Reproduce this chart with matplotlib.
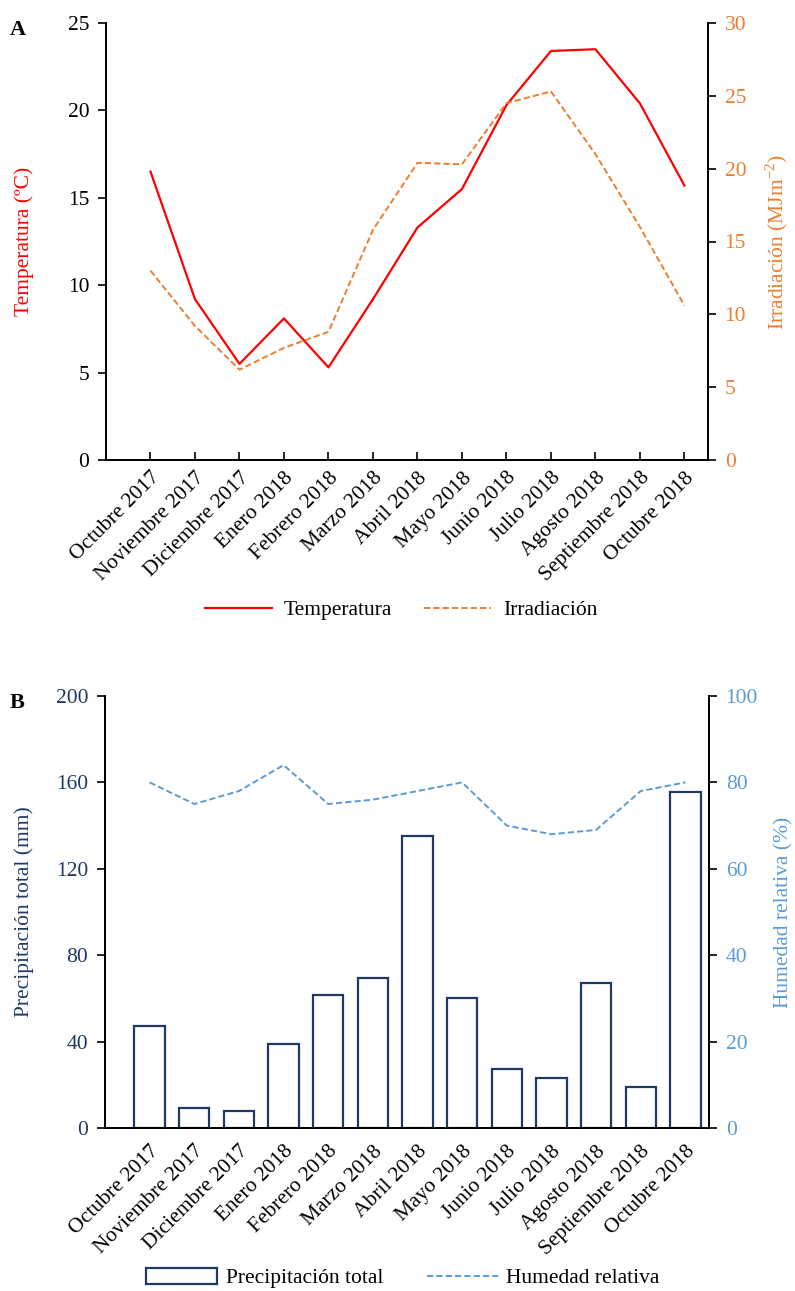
import matplotlib
matplotlib.use("Agg")
import matplotlib.pyplot as plt
from matplotlib.patches import Patch
from matplotlib.lines import Line2D
import numpy as np

plt.rcParams['font.family'] = ['Liberation Serif', 'DejaVu Serif']
plt.rcParams['mathtext.fontset'] = 'custom'
plt.rcParams['mathtext.rm'] = 'Liberation Serif'

months = ["Octubre 2017", "Noviembre 2017", "Diciembre 2017", "Enero 2018",
          "Febrero 2018", "Marzo 2018", "Abril 2018", "Mayo 2018", "Junio 2018",
          "Julio 2018", "Agosto 2018", "Septiembre 2018", "Octubre 2018"]
temperatura = [16.5, 9.2, 5.5, 8.1, 5.3, 9.2, 13.3, 15.5, 20.3, 23.4, 23.5, 20.4, 15.7]
irradiacion = [13.0, 9.2, 6.2, 7.7, 8.8, 15.8, 20.4, 20.3, 24.5, 25.3, 21.0, 16.0, 10.6]
precipitacion = [47, 9.3, 8.0, 38.8, 61.6, 69.3, 135.1, 60.1, 27.5, 23.3, 67.3, 19.0, 155.5]
humedad = [80, 75, 78, 84, 75, 76, 78, 80, 70, 68, 69, 78, 80]

RED = "#FF0000"
ORANGE = "#ED7D31"
NAVY = "#203864"
LBLUE = "#5B9BD5"
FS = 15.5

fig = plt.figure(figsize=(7.95, 12.91), dpi=100)
x = np.arange(len(months))

# ---------- Panel A ----------
axA = fig.add_axes([106/795, 1-460/1291, 602/795, 437/1291])
axA2 = axA.twinx()
axA.plot(x, temperatura, color=RED, lw=1.6)
axA2.plot(x, irradiacion, color=ORANGE, lw=1.4, dashes=(3.2, 1.6))
axA.set_xlim(-1, 12.53)
axA.set_ylim(0, 25)
axA2.set_ylim(0, 30)
axA.set_yticks([0, 5, 10, 15, 20, 25])
axA2.set_yticks([0, 5, 10, 15, 20, 25, 30])
axA.set_xticks(x)
axA.set_xticklabels(months, rotation=45, ha='right', rotation_mode='anchor', fontsize=FS)
axA.tick_params(axis='x', direction='in', length=6, width=1.2, pad=6)
axA.tick_params(axis='y', direction='out', length=6, width=1.2, labelsize=FS, pad=6)
axA2.tick_params(axis='y', direction='out', length=6, width=1.2, labelsize=FS,
                 labelcolor=ORANGE, pad=6)
for a in (axA, axA2):
    a.spines['top'].set_visible(False)
    for s in ('left', 'right', 'bottom'):
        a.spines[s].set_linewidth(1.3)
axA.set_ylabel("Temperatura (ºC)", color=RED, fontsize=FS, labelpad=24)
axA2.set_ylabel("Irradiación (MJm$^{-2}$)", color=ORANGE, fontsize=FS, labelpad=12)
fig.text(10/795, 1-30/1291, "A", fontsize=16, fontweight='bold', va='center')

handlesA = [Line2D([], [], color=RED, lw=1.6),
            Line2D([], [], color=ORANGE, lw=1.4, dashes=(3.2, 1.6))]
fig.legend(handlesA, ["Temperatura", "Irradiación"], loc='center',
           bbox_to_anchor=(401/795, 1-610/1291), ncol=2, frameon=False,
           fontsize=FS, handlelength=3.1, columnspacing=1.5, handletextpad=0.55)

# ---------- Panel B ----------
axB = fig.add_axes([105/795, 1-1128/1291, 604/795, 432/1291])
axB2 = axB.twinx()
axB.bar(x, precipitacion, width=0.68, facecolor='white', edgecolor=NAVY, linewidth=1.6)
axB2.plot(x, humedad, color=LBLUE, lw=1.4, dashes=(3.2, 1.6))
axB.set_xlim(-1, 12.53)
axB.set_ylim(0, 200)
axB2.set_ylim(0, 100)
axB.set_yticks([0, 40, 80, 120, 160, 200])
axB2.set_yticks([0, 20, 40, 60, 80, 100])
axB.set_xticks(x)
axB.set_xticklabels(months, rotation=45, ha='right', rotation_mode='anchor', fontsize=FS)
axB.tick_params(axis='x', length=0, pad=10)
axB.tick_params(axis='y', direction='out', length=6, width=1.2, labelsize=FS,
                labelcolor=NAVY, pad=6)
axB2.tick_params(axis='y', direction='out', length=6, width=1.2, labelsize=FS,
                 labelcolor=LBLUE, pad=6)
for a in (axB, axB2):
    a.spines['top'].set_visible(False)
    for s in ('left', 'right', 'bottom'):
        a.spines[s].set_linewidth(1.3)
axB.set_ylabel("Precipitación total (mm)", color=NAVY, fontsize=FS, labelpad=16)
axB2.set_ylabel("Humedad relativa (%)", color=LBLUE, fontsize=FS, labelpad=12)
fig.text(10/795, 1-703/1291, "B", fontsize=16, fontweight='bold', va='center')

handlesB = [Patch(facecolor='white', edgecolor=NAVY, linewidth=1.6),
            Line2D([], [], color=LBLUE, lw=1.4, dashes=(3.2, 1.6))]
fig.legend(handlesB, ["Precipitación total", "Humedad relativa"], loc='center',
           bbox_to_anchor=(403/795, 1-1278/1291), ncol=2, frameon=False,
           fontsize=FS, handlelength=3.3, handleheight=0.8, columnspacing=2.0,
           handletextpad=0.4)

fig.savefig("out.png", dpi=100)
